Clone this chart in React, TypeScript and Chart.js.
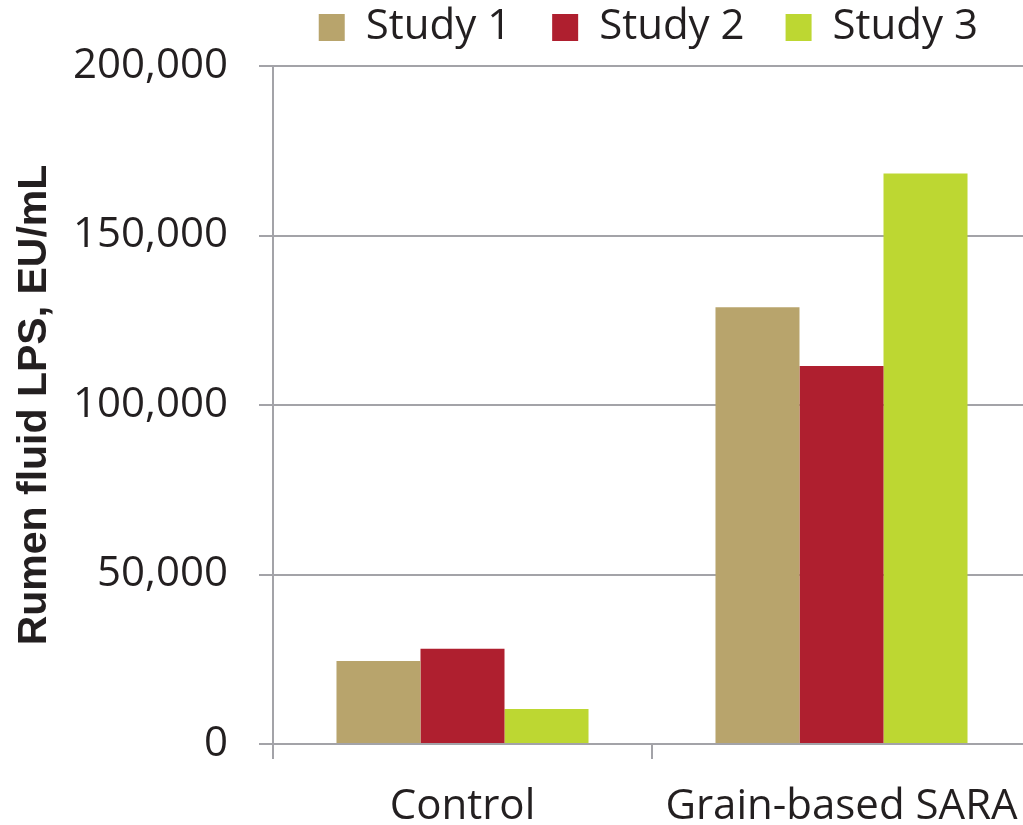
import React, { useEffect, useRef } from "react";
import { Chart, registerables } from "chart.js";

Chart.register(...registerables);

const categories = ["Control", "Grain-based SARA"];
const seriesNames = ["Study 1", "Study 2", "Study 3"];
const study1 = [24500, 128800];
const study2 = [28100, 111500];
const study3 = [10300, 168300];
const seriesColors = ["#B8A46C", "#AF1F2F", "#BDD732"];
const yTicks = [0, 50000, 100000, 150000, 200000];
const yTitle = "Rumen fluid LPS, EU/mL";

const TEXT = "#231F20";
const GRID = "#A3A3A8";
const FONT = "'Open Sans', sans-serif";

const legendNudge = {
  id: "legendNudge",
  afterLayout(chart: any) {
    const lg = chart.legend;
    if (!lg) return;
    lg.top -= 7.5;
    lg.bottom -= 7.5;
    lg.left -= 12;
    lg.right -= 12;
  },
};

export default function App() {
  const ref = useRef<HTMLCanvasElement | null>(null);

  useEffect(() => {
    document.body.style.margin = "0";
    document.body.style.overflow = "hidden";
    const canvas = ref.current;
    if (!canvas) return;
    const values = [study1, study2, study3];
    const chart = new Chart(canvas, {
      type: "bar",
      data: {
        labels: categories,
        datasets: seriesNames.map((name, i) => ({
          label: name,
          data: values[i],
          backgroundColor: seriesColors[i],
          borderWidth: 0,
          categoryPercentage: 0.665,
          barPercentage: 1,
        })),
      },
      plugins: [legendNudge],
      options: {
        responsive: false,
        animation: false,
        layout: { padding: { top: -27, left: 0, right: 3, bottom: 0 } },
        plugins: {
          tooltip: { enabled: false },
          legend: {
            position: "top",
            align: "end",
            labels: {
              font: { family: FONT, size: 42 },
              color: TEXT,
              boxWidth: 26,
              boxHeight: 27,
              padding: 41,
            },
          },
        },
        scales: {
          x: {
            offset: true,
            afterFit: (scale: any) => {
              scale.height = 81;
              scale.paddingRight = 0;
              scale.paddingLeft = 0;
            },
            grid: {
              display: true,
              offset: true,
              drawOnChartArea: false,
              drawTicks: true,
              tickLength: 15,
              color: GRID,
              lineWidth: 2,
            },
            border: { display: true, color: GRID, width: 2 },
            ticks: {
              font: { family: FONT, size: 42 },
              color: TEXT,
              padding: 23,
              maxRotation: 0,
              autoSkip: false,
            },
          },
          y: {
            min: 0,
            max: 200000,
            afterBuildTicks: (scale: any) => {
              scale.ticks = yTicks.map((v) => ({ value: v }));
            },
            afterFit: (scale: any) => {
              scale.width = 273;
            },
            grid: {
              color: GRID,
              lineWidth: 2,
              drawTicks: true,
              tickLength: 14,
            },
            border: { display: true, color: GRID, width: 2 },
            ticks: {
              font: { family: FONT, size: 42 },
              color: TEXT,
              padding: 31,
              callback: (v: any) => Number(v).toLocaleString("en-US"),
            },
            title: {
              display: true,
              text: yTitle,
              color: TEXT,
              font: { family: "'Liberation Sans', Arial, sans-serif", size: 41, weight: "bold" },
              padding: { top: 10, bottom: 0 },
            },
          },
        },
      },
    });
    return () => chart.destroy();
  }, []);

  return (
    <div style={{ width: 1023, height: 825, overflow: "hidden" }}>
      <canvas ref={ref} width={1034} height={825} style={{ display: "block" }} />
    </div>
  );
}
